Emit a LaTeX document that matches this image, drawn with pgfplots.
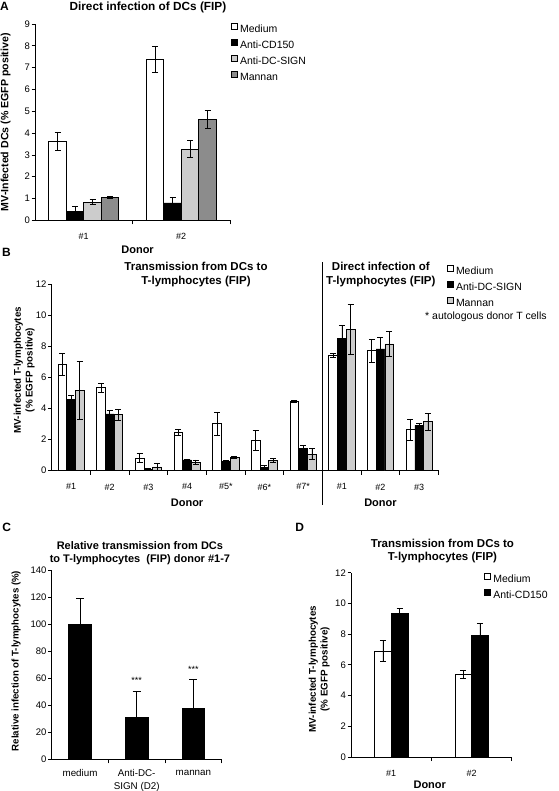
\documentclass[border=0pt]{standalone}
\usepackage{fontspec}
\setmainfont{Liberation Sans}
\usepackage{pgfplots}
\pgfplotsset{compat=1.18}

\definecolor{lgray}{HTML}{CCCCCC}
\definecolor{dgray}{HTML}{8C8C8C}

\pgfplotsset{
  exc/.style={
    scale only axis,
    clip=false,
    axis x line=bottom, axis y line=left,
    axis line style={black, line width=0.7pt, -},
    tick align=outside,
    major tick length=3.5pt, minor tick length=4pt,
    tick style={black, line width=0.7pt},
    major x tick style={draw=none},
    ymin=0,
    ybar=0pt,
    /pgf/number format/assume math mode=true,
    yticklabel style={font=\fontsize{9.5}{11}\selectfont, inner sep=1.5pt},
    xticklabel style={font=\fontsize{9}{10}\selectfont, yshift=-6pt},
    legend cell align=left,
    legend style={draw=none, fill=none, inner sep=0pt,
      font=\fontsize{10.5}{12}\selectfont, row sep=3.6pt,
      nodes={inner sep=1pt, text height=7pt, text depth=2pt},
      /tikz/column sep=1.5pt},
    legend image code/.code={\draw[##1, line width=0.6pt] (0pt,0.6pt) rectangle (6pt,6.6pt);},
    every axis title shift=0pt,
    title style={font=\bfseries\fontsize{11.5}{14}\selectfont, align=center, anchor=center, yshift=0pt},
    xlabel style={font=\bfseries\fontsize{11}{13}\selectfont, anchor=center},
  },
  bst/.style={draw=black, line width=0.6pt, fill=#1},
  errs/.style={error bars/.cd, y dir=both, y explicit,
    error bar style={line width=0.6pt, black},
    error mark options={rotate=90, mark size=#1, line width=0.6pt, black}},
}

\begin{document}
\begin{tikzpicture}[x=1pt,y=1pt]
\path[use as bounding box] (0,0) rectangle (558,791);

% ---------------- Panel A ----------------
\begin{axis}[exc,
  at={(35pt,570.7pt)}, anchor=south west, width=195pt, height=196.3pt,
  xmin=-0.5, xmax=1.5, ymax=9, ytick={0,1,...,9},
  xtick={0,1}, xticklabels={\#1,\#2}, minor xtick={0.5,1.5},
  bar width=17.5pt,
  xlabel={Donor},
  xlabel style={at={(axis description cs:0.526,-0.148)}},
  ylabel={MV-Infected DCs (\% EGFP positive)},
  ylabel style={at={(axis description cs:-0.151,0.5)}, anchor=center,
    font=\bfseries\fontsize{10.6}{12}\selectfont},
  title={Direct infection of DCs (FIP)},
  title style={at={(axis description cs:0.579,1.085)}, font=\bfseries\fontsize{11.8}{14}\selectfont},
  legend style={at={(1.0036,1.0046)}, anchor=north west},
]
\addplot[bst=white, errs=3pt] coordinates {(0,3.62) +- (0,0.43) (1,7.38) +- (0,0.6)};
\addlegendentry{Medium}
\addplot[bst=black, errs=3pt] coordinates {(0,0.42) +- (0,0.2) (1,0.8) +- (0,0.26)};
\addlegendentry{Anti-CD150}
\addplot[bst=lgray, errs=3pt] coordinates {(0,0.83) +- (0,0.11) (1,3.26) +- (0,0.39)};
\addlegendentry{Anti-DC-SIGN}
\addplot[bst=dgray, errs=3pt] coordinates {(0,1.06) +- (0,0.05) (1,4.64) +- (0,0.4)};
\addlegendentry{Mannan}
\end{axis}

% ---------------- Panel B ----------------
\begin{axis}[exc,
  at={(51.7pt,320.3pt)}, anchor=south west, width=386.8pt, height=186.4pt,
  xmin=-0.5, xmax=9.5, ymax=12, ytick={0,2,...,12},
  xtick={0,1,...,9},
  xticklabels={\#1,\#2,\#3,\#4,\#5*,\#6*,\#7*,\#1,\#2,\#3},
  minor xtick={0.5,1.5,...,9.5},
  bar width=8.7pt,
  ylabel={MV-infected T-lymphocytes\\(\% EGFP positive)},
  ylabel style={at={(axis description cs:-0.0711,0.54)}, anchor=center, align=center,
    font=\bfseries\fontsize{9.8}{11.7}\selectfont},
  legend style={at={(1.0212,1.103)}, anchor=north west},
]
\addplot[bst=white, errs=3pt] coordinates {
 (0,6.85) +- (0,0.7) (1,5.35) +- (0,0.28) (2,0.82) +- (0,0.3) (3,2.47) +- (0,0.2)
 (4,3.02) +- (0,0.73) (5,1.95) +- (0,0.65) (6,4.45) +- (0,0.05)
 (7,7.43) +- (0,0.12) (8,7.73) +- (0,0.73) (9,2.64) +- (0,0.7)};
\addlegendentry{Medium}
\addplot[bst=black, errs=3pt] coordinates {
 (0,4.6) +- (0,0.27) (1,3.66) +- (0,0.2) (2,0.1) +- (0,0.03) (3,0.7) +- (0,0.05)
 (4,0.58) +- (0,0.1) (5,0.2) +- (0,0.12) (6,1.42) +- (0,0.22)
 (7,8.52) +- (0,0.85) (8,7.84) +- (0,0.75) (9,2.92) +- (0,0.15)};
\addlegendentry{Anti-DC-SIGN}
\addplot[bst=lgray, errs=3pt] coordinates {
 (0,5.15) +- (0,1.87) (1,3.6) +- (0,0.33) (2,0.25) +- (0,0.2) (3,0.55) +- (0,0.15)
 (4,0.85) +- (0,0.05) (5,0.65) +- (0,0.12) (6,1.07) +- (0,0.35)
 (7,9.1) +- (0,1.6) (8,8.16) +- (0,0.8) (9,3.16) +- (0,0.55)};
\addlegendentry{Mannan}
\node[font=\bfseries\fontsize{11.5}{14}\selectfont, align=center]
  at (axis description cs:0.373,1.052) {Transmission from DCs to\\T-lymphocytes (FIP)};
\node[font=\bfseries\fontsize{11.5}{14}\selectfont, align=center]
  at (axis description cs:0.851,1.052) {Direct infection of\\T-lymphocytes (FIP)};
\node[font=\bfseries\fontsize{11}{13}\selectfont, yshift=-32.5pt] at (axis cs:3,0) {Donor};
\node[font=\bfseries\fontsize{11}{13}\selectfont, yshift=-32.5pt] at (axis cs:8,0) {Donor};
\end{axis}
\draw[black, line width=0.7pt] (322.5,286) -- (322.5,529);
\node[anchor=west, font=\fontsize{10.5}{12}\selectfont] at (421.7,474.3) {* autologous donor T cells};

% ---------------- Panel C ----------------
\begin{axis}[exc,
  at={(51.7pt,31.7pt)}, anchor=south west, width=170pt, height=189.3pt,
  xmin=-0.5, xmax=2.5, ymax=140, ytick={0,20,...,140},
  xtick={0,1,2}, xticklabels={medium,Anti-DC-\\SIGN (D2),mannan},
  xticklabel style={align=center, font=\fontsize{9.8}{12.8}\selectfont, yshift=2.5pt},
  minor xtick={0.5,1.5,2.5},
  bar width=22.7pt,
  ylabel={Relative infection of T-lymphocytes (\%)},
  ylabel style={at={(axis description cs:-0.21,0.519)}, anchor=center,
    font=\bfseries\fontsize{9.7}{12}\selectfont},
  title={Relative transmission from DCs\\to T-lymphocytes\ \ (FIP) donor \#1-7},
  title style={at={(axis description cs:0.519,1.088)}, font=\bfseries\fontsize{11}{13.5}\selectfont},
]
\addplot[bst=black, error bars/.cd, y dir=plus, y explicit,
    error bar style={line width=0.6pt, black},
    error mark options={rotate=90, mark size=4pt, line width=0.6pt, black}]
  coordinates {(0,100) +- (0,19) (1,31) +- (0,19.5) (2,37.5) +- (0,21.7)};
\node[font=\fontsize{9}{10}\selectfont] at (axis cs:1,58) {***};
\node[font=\fontsize{9}{10}\selectfont] at (axis cs:2,66.6) {***};
\end{axis}

% ---------------- Panel D ----------------
\begin{axis}[exc,
  at={(351pt,34pt)}, anchor=south west, width=160.7pt, height=184.3pt,
  xmin=-0.5, xmax=1.5, ymax=12, ytick={0,2,...,12},
  xtick={0,1}, xticklabels={\#1,\#2}, minor xtick={0.5,1.5},
  bar width=16.7pt,
  xlabel={Donor},
  xlabel style={at={(axis description cs:0.49,-0.152)}},
  ylabel={MV-infected T-lymphocytes\\(\% EGFP positive)},
  ylabel style={at={(axis description cs:-0.198,0.477)}, anchor=center, align=center,
    font=\bfseries\fontsize{9.8}{11.7}\selectfont},
  title={Transmission from DCs to\\T-lymphocytes (FIP)},
  title style={at={(axis description cs:0.569,1.118)}, font=\bfseries\fontsize{11.5}{13.5}\selectfont},
  legend style={at={(0.828,1.001)}, anchor=north west},
]
\addplot[bst=white, errs=3pt] coordinates {(0,6.9) +- (0,0.7) (1,5.38) +- (0,0.26)};
\addlegendentry{Medium}
\addplot[bst=black, errs=3pt] coordinates {(0,9.35) +- (0,0.32) (1,7.9) +- (0,0.8)};
\addlegendentry{Anti-CD150}
\end{axis}

% panel letters
\node[font=\bfseries\fontsize{12}{14}\selectfont] at (4.5,785) {A};
\node[font=\bfseries\fontsize{12}{14}\selectfont] at (6.5,538.5) {B};
\node[font=\bfseries\fontsize{12}{14}\selectfont] at (6.7,264) {C};
\node[font=\bfseries\fontsize{12}{14}\selectfont] at (299.7,264) {D};
\end{tikzpicture}
\end{document}
